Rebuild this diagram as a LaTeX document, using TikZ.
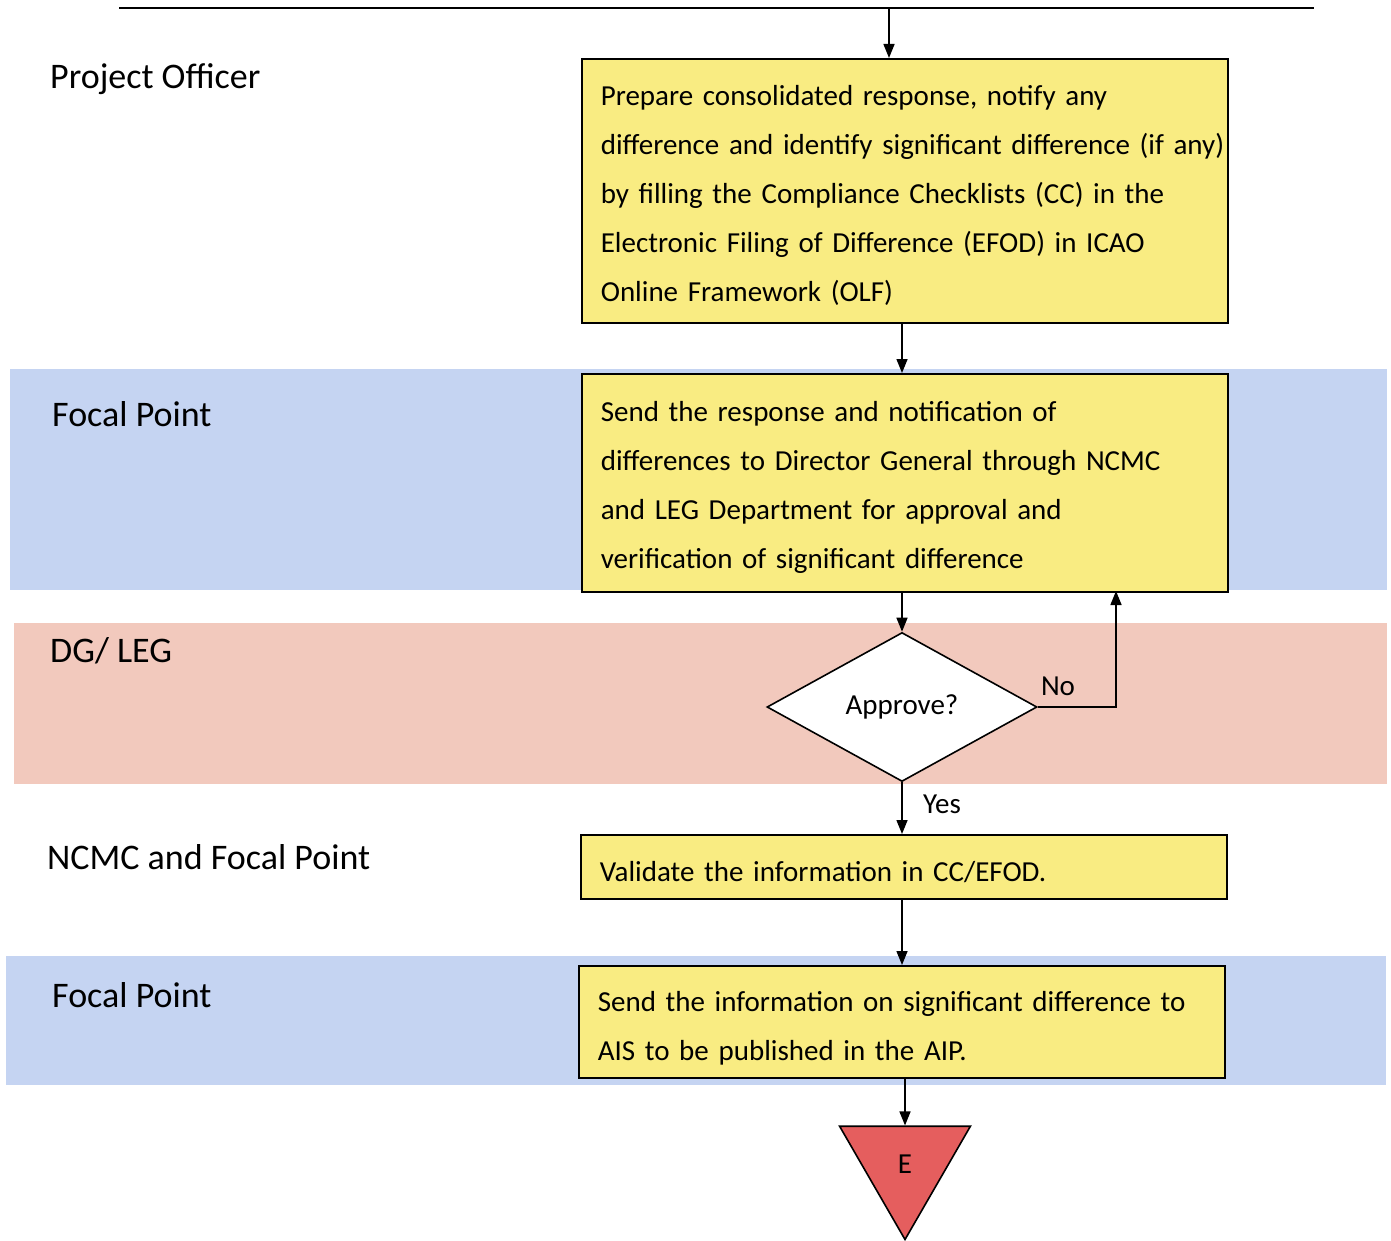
\documentclass[tikz,border=0pt]{standalone}
\usepackage{fontspec}
\setmainfont{Carlito}
\usetikzlibrary{shapes.geometric,arrows.meta}
\definecolor{boxyellow}{RGB}{249,236,130}
\definecolor{laneblue}{RGB}{197,212,242}
\definecolor{lanepink}{RGB}{242,201,189}
\definecolor{endred}{RGB}{229,94,94}
% lane names and step texts; the step face gets a slightly narrower word space
\newcommand{\lanefont}{\fontsize{36}{40}\selectfont}
\newcommand{\boxfont}{\fontsize{29}{49}\selectfont\fontdimen2\font=5.3pt\relax}
% taller first line so the text sits a little lower in its box
\newcommand{\firstlinestrut}{\rule{0pt}{30pt}}
\begin{document}
\begin{tikzpicture}[x=1pt,y=-1pt,
  lane/.style={fill=#1,draw=none},
  lanelabel/.style={anchor=west,inner sep=0pt,font=\lanefont},
  stepbox/.style={draw,line width=1.6pt,fill=boxyellow,anchor=north west,align=left,
    inner xsep=19pt,inner ysep=0pt,minimum width=646pt,text width=608pt,
    font=\boxfont},
  decision/.style={diamond,draw,line width=1.6pt,fill=white,inner sep=0pt,
    minimum width=270pt,minimum height=149pt,font=\fontsize{29}{32}\selectfont},
  flow/.style={line width=1.5pt,-{Triangle[length=14pt,width=11pt]}},
  edgelabel/.style={inner sep=0pt,font=\fontsize{29}{32}\selectfont}]
\useasboundingbox (0,0) rectangle (1391,1241);

% swimlane bands
\fill[lane=laneblue]  (10,369) rectangle (1387,590);
\fill[lane=lanepink]  (14,623) rectangle (1387,784);
\fill[lane=laneblue]  (6,956)  rectangle (1386,1085);

% lane names
\node[lanelabel] (l1) at (50,79)  {Project Officer};
\node[lanelabel] (l2) at (52,414) {Focal Point};
\node[lanelabel] (l3) at (50,651) {DG/ LEG};
\node[lanelabel] (l4) at (47,857) {NCMC and Focal Point};
\node[lanelabel] (l5) at (52,995) {Focal Point};

% incoming line
\coordinate (topL) at (119,8);
\coordinate (topR) at (1314,8);
\coordinate (topIn) at (889,8);
\draw[line width=1.5pt] (topL) -- (topR);

% process steps
\node[stepbox,minimum height=264pt] (b1) at (581,58)
  {\firstlinestrut\mbox{Prepare consolidated response, notify any}\\
   \mbox{difference and identify significant difference (if any)}\\
   \mbox{by filling the Compliance Checklists (CC) in the}\\
   \mbox{Electronic Filing of Difference (EFOD) in ICAO}\\
   \mbox{Online Framework (OLF)}};
\node[stepbox,minimum height=218pt] (b2) at (581,373)
  {\firstlinestrut\mbox{Send the response and notification of}\\
   \mbox{differences to Director General through NCMC}\\
   \mbox{and LEG Department for approval and}\\
   \mbox{verification of significant difference}};
\node[decision] (d) at (902,707) {Approve?};
\node[stepbox,minimum height=64pt] (b3) at (580,834)
  {\firstlinestrut Validate the information in CC/EFOD.};
\node[stepbox,minimum height=112pt] (b4) at (578,965)
  {\rule{0pt}{33pt}\mbox{Send the information on significant difference to}\\
   \mbox{AIS to be published in the AIP.}};
\node[regular polygon,regular polygon sides=3,shape border rotate=180,draw,
  line width=1.6pt,fill=endred,minimum size=151pt,inner sep=0pt,
  font=\fontsize{29}{32}\selectfont] (e) at (905,1164) {E};

% connectors
\coordinate (noUp) at (1116,591);
\draw[flow] (topIn) -- (topIn |- b1.north);
\draw[flow] (b1.south -| d.north) -- (b2.north -| d.north);
\draw[flow] (b2.south -| d.north) -- (d.north);
\draw[flow] (d.east) -| (noUp);
\draw[flow] (d.south) -- (d.south |- b3.north);
\draw[flow] (b3.south -| d.south) -- (b4.north -| d.south);
\draw[flow] (b4.south -| e.north) -- (e.north);

% branch labels
\node[edgelabel] (no) at (1058,686) {No};
\node[edgelabel] (yes) at (942,804) {Yes};
\end{tikzpicture}
\end{document}
